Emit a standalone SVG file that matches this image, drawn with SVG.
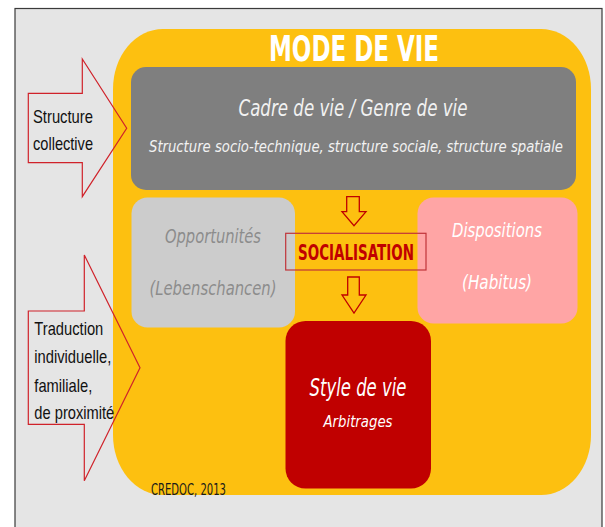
<svg xmlns="http://www.w3.org/2000/svg" width="605" height="527" viewBox="0 0 605 527">
<style>
.cond{font-family:"DejaVu Sans",sans-serif;font-stretch:condensed}
.it{font-style:italic}
.arrowL{fill:none;stroke:#d0222a;stroke-width:1.2}
.sarrow{fill:none;stroke:#c00000;stroke-width:1.3}
.lbl{font-family:"Liberation Sans",Arial,sans-serif;font-size:19px;fill:#111}
</style>
<rect x="0" y="0" width="605" height="527" fill="#ffffff"/>
<rect x="15" y="8.5" width="587" height="530" fill="#e5e5e5" stroke="#3a3a3a" stroke-width="1.2"/>
<g id="mode-de-vie">
<path d="M163,29 H541 A50,60 0 0 1 591,89 V435 A50,60 0 0 1 541,495 H163 A50,60 0 0 1 113,435 V89 A50,60 0 0 1 163,29 Z" fill="#fdc010"/>
<text x="354" y="61" text-anchor="middle" class="cond" font-weight="bold" font-size="36" fill="#ffffff" textLength="170" lengthAdjust="spacingAndGlyphs">MODE DE VIE</text>
<text x="151" y="495" class="cond" font-size="16" fill="#1a1a1a" textLength="75" lengthAdjust="spacingAndGlyphs">CREDOC, 2013</text>
</g>
<g id="cadre-de-vie">
<rect x="131" y="67" width="445" height="123" rx="15" fill="#7f7f7f"/>
<text x="353" y="116" text-anchor="middle" class="cond it" font-size="23" fill="#f2f2f2" textLength="229" lengthAdjust="spacingAndGlyphs">Cadre de vie / Genre de vie</text>
<text x="356" y="152" text-anchor="middle" class="cond it" font-size="16" fill="#f2f2f2" textLength="414" lengthAdjust="spacingAndGlyphs">Structure socio-technique, structure sociale, structure spatiale</text>
</g>
<g id="opportunites">
<rect x="131.5" y="197.5" width="163.5" height="130" rx="16" fill="#cccccc"/>
<text x="213" y="243" text-anchor="middle" class="cond it" font-size="20" fill="#8c8c8c" textLength="96" lengthAdjust="spacingAndGlyphs">Opportunités</text>
<text x="213" y="295" text-anchor="middle" class="cond it" font-size="20" fill="#8c8c8c" textLength="127" lengthAdjust="spacingAndGlyphs">(Lebenschancen)</text>
</g>
<g id="dispositions">
<rect x="417.5" y="197.5" width="160" height="126" rx="16" fill="#ffa5a5"/>
<text x="497" y="237" text-anchor="middle" class="cond it" font-size="20" fill="#ffffff" textLength="90" lengthAdjust="spacingAndGlyphs">Dispositions</text>
<text x="497" y="289" text-anchor="middle" class="cond it" font-size="20" fill="#ffffff" textLength="70" lengthAdjust="spacingAndGlyphs">(Habitus)</text>
</g>
<g id="style-de-vie">
<rect x="285.5" y="321" width="145.5" height="167.5" rx="20" fill="#c00000"/>
<text x="358" y="396" text-anchor="middle" class="cond it" font-size="24" fill="#ffffff" textLength="97" lengthAdjust="spacingAndGlyphs">Style de vie</text>
<text x="358" y="427" text-anchor="middle" class="cond it" font-size="16" fill="#ffffff" textLength="69" lengthAdjust="spacingAndGlyphs">Arbitrages</text>
</g>
<g id="socialisation">
<rect x="285.7" y="233.3" width="140.3" height="36.7" fill="none" stroke="#c0343a" stroke-width="1.2"/>
<text x="356" y="260" text-anchor="middle" class="cond" font-weight="bold" font-size="21" fill="#c00000" textLength="116" lengthAdjust="spacingAndGlyphs">SOCIALISATION</text>
</g>
<g id="structure-collective">
<polygon class="arrowL" points="28.3,93.3 82.3,93.3 82.3,59 126.7,128.3 82.3,196.7 82.3,162.7 28.3,162.7"/>
<text class="lbl" x="33" y="122.7" textLength="60" lengthAdjust="spacingAndGlyphs">Structure</text>
<text class="lbl" x="33" y="150" textLength="60" lengthAdjust="spacingAndGlyphs">collective</text>
</g>
<g id="traduction">
<polygon class="arrowL" points="28.3,311 84.3,311 84.3,255 140,367.7 84.3,480.7 84.3,424.3 28.3,424.3"/>
<text class="lbl" x="34.3" y="335" textLength="69" lengthAdjust="spacingAndGlyphs">Traduction</text>
<text class="lbl" x="34.3" y="363.3" textLength="77" lengthAdjust="spacingAndGlyphs">individuelle,</text>
<text class="lbl" x="34.3" y="391.7" textLength="58" lengthAdjust="spacingAndGlyphs">familiale,</text>
<text class="lbl" x="34.3" y="419.3" textLength="80" lengthAdjust="spacingAndGlyphs">de proximité</text>
</g>
<g id="connectors">
<polygon class="sarrow" points="346.7,196.7 359.3,196.7 359.3,211.7 366,211.7 354,225.7 342,211.7 346.7,211.7"/>
<polygon class="sarrow" points="347.7,277 359.3,277 359.3,295 366,295 354,313 342,295 347.7,295"/>
</g>
</svg>
